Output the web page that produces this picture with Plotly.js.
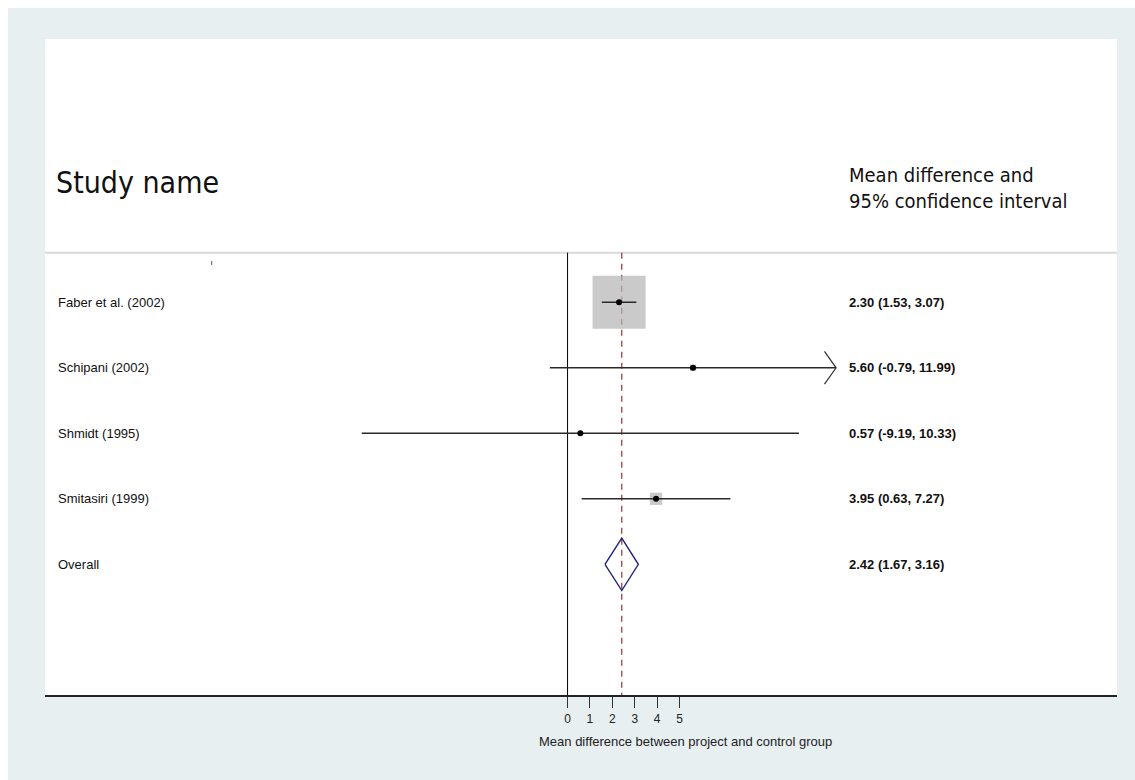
<!DOCTYPE html>
<html>
<head>
<meta charset="utf-8">
<script src="https://cdn.plot.ly/plotly-3.0.1.min.js"></script>
<style>
  html, body { margin: 0; padding: 0; background: #ffffff; width: 1135px; height: 780px; overflow: hidden; }
  #chart { position: absolute; left: 8px; top: 8px; width: 1127px; height: 772px; }
</style>
</head>
<body>
<div id="chart"></div>
<script>
// ---- data ----
var studies   = ["Faber et al. (2002)", "Schipani (2002)", "Shmidt (1995)", "Smitasiri (1999)"];
var meanDiff  = [2.30, 5.60, 0.57, 3.95];
var lowerCI   = [1.53, -0.79, -9.19, 0.63];
var upperCI   = [3.07, 11.99, 10.33, 7.27];
var weightPct = [93.1, 1.35, 0.58, 5.0];          // relative study weight (box area)
var arrowStudies = ["Schipani (2002)"];          // CI drawn with an open arrow at its upper end

var overallLabel = "Overall";
var overallMean  = 2.42;
var overallLower = 1.67;
var overallUpper = 3.16;

var xTickVals = [0, 1, 2, 3, 4, 5];
var headerLeft  = "Study name";
var headerRight = "Mean difference and<br>95% confidence interval";
var xAxisTitle  = "Mean difference between project and control group";

// ---- layout helpers ----
var rowY = studies.map(function (s, i) { return i + 1; });
var overallY = studies.length + 1;
var headerLineY = 0.243;
var yTop = -3.02, yBottom = 6.995;

var sansHead = "DejaVu Sans Condensed, DejaVu Sans, sans-serif";
var arial = "Liberation Sans, Arial, sans-serif";

var traces = [];

// weight boxes
traces.push({
  type: "scatter", mode: "markers",
  x: meanDiff, y: rowY,
  marker: { symbol: "square", color: "#b3b3b3",
            size: weightPct.map(function (w) { return 5.5 * Math.sqrt(w); }),
            line: { width: 0 } },
  hoverinfo: "skip"
});

// confidence intervals + point estimates
traces.push({
  type: "scatter", mode: "markers",
  x: meanDiff, y: rowY,
  marker: { symbol: "circle", color: "#000000", size: 6 },
  error_x: {
    type: "data", symmetric: false,
    array: meanDiff.map(function (m, i) { return upperCI[i] - m; }),
    arrayminus: meanDiff.map(function (m, i) { return m - lowerCI[i]; }),
    width: 0, thickness: 1.4, color: "#2a2a2a"
  },
  hoverinfo: "skip"
});

// open arrowheads
studies.forEach(function (s, i) {
  if (arrowStudies.indexOf(s) < 0) return;
  var tip = upperCI[i], dx = 0.52, dy = 0.25;
  traces.push({
    type: "scatter", mode: "lines",
    x: [tip - dx, tip, tip - dx], y: [rowY[i] - dy, rowY[i], rowY[i] + dy],
    line: { color: "#333333", width: 1.2 },
    hoverinfo: "skip"
  });
});

// overall diamond
var dh = 0.40;
traces.push({
  type: "scatter", mode: "lines",
  x: [overallLower, overallMean, overallUpper, overallMean, overallLower],
  y: [overallY, overallY - dh, overallY, overallY + dh, overallY],
  line: { color: "#22227f", width: 1.4 },
  hoverinfo: "skip"
});

// annotations
var annotations = [];
var labelX = 0.0105, valueX = 0.748;
studies.concat([overallLabel]).forEach(function (s, i) {
  annotations.push({ xref: "paper", yref: "y", x: labelX, y: i + 1, xanchor: "left", yanchor: "middle",
    text: s, showarrow: false, font: { family: arial, size: 13, color: "#111111" } });
});
meanDiff.concat([overallMean]).forEach(function (m, i) {
  var lo = i < studies.length ? lowerCI[i] : overallLower;
  var hi = i < studies.length ? upperCI[i] : overallUpper;
  annotations.push({ xref: "paper", yref: "y", x: valueX, y: i + 1, xanchor: "left", yanchor: "middle",
    text: "<b>" + m.toFixed(2) + " (" + lo.toFixed(2) + ", " + hi.toFixed(2) + ")</b>",
    showarrow: false, font: { family: arial, size: 13, color: "#111111" } });
});
annotations.push({ xref: "paper", yref: "y", x: 0.0085, y: -0.83, xanchor: "left", yanchor: "middle",
  text: headerLeft, showarrow: false, font: { family: sansHead, size: 30, color: "#111111" } });
annotations.push({ xref: "paper", yref: "y", x: valueX, y: -0.75, xanchor: "left", yanchor: "middle",
  align: "left", text: headerRight, showarrow: false, font: { family: sansHead, size: 20, color: "#111111" } });
annotations.push({ xref: "paper", yref: "paper", x: 0.5976, y: -0.0716, xanchor: "center", yanchor: "middle",
  text: xAxisTitle, showarrow: false, font: { family: arial, size: 13, color: "#222222" } });

var shapes = [
  // header separator
  { type: "line", xref: "paper", yref: "y", x0: 0, x1: 1, y0: headerLineY, y1: headerLineY,
    line: { color: "#d9d9d9", width: 2 }, layer: "below" },
  // stray tick under header
  { type: "line", xref: "paper", yref: "y", x0: 0.1555, x1: 0.1555, y0: 0.37, y1: 0.43,
    line: { color: "#555555", width: 1 }, layer: "below" },
  // no-effect line
  { type: "line", xref: "x", yref: "y", x0: 0, x1: 0, y0: headerLineY, y1: yBottom,
    line: { color: "#000000", width: 1 }, layer: "below" },
  // overall estimate line
  { type: "line", xref: "x", yref: "y", x0: overallMean, x1: overallMean, y0: headerLineY, y1: yBottom,
    line: { color: "#8e2020", width: 1.1, dash: "6px,5px" }, layer: "below" }
];

var layout = {
  width: 1127, height: 772,
  margin: { l: 37, r: 18, t: 31, b: 85, pad: 0 },
  paper_bgcolor: "#e8eff1",
  plot_bgcolor: "#ffffff",
  showlegend: false,
  hovermode: false,
  xaxis: {
    range: [-23.33, 24.53], fixedrange: true,
    showgrid: false, zeroline: false,
    showline: true, linecolor: "#222222", linewidth: 1.5,
    ticks: "outside", ticklen: 11, tickwidth: 1, tickcolor: "#333333",
    tickmode: "array", tickvals: xTickVals, ticktext: xTickVals.map(String),
    tickfont: { family: arial, size: 12, color: "#222222" },
    ticklabelstandoff: 1
  },
  yaxis: {
    range: [yBottom, yTop], fixedrange: true,
    showgrid: false, zeroline: false, showline: false,
    showticklabels: false, ticks: ""
  },
  annotations: annotations,
  shapes: shapes
};

Plotly.newPlot("chart", traces, layout, { displayModeBar: false, staticPlot: true });
</script>
</body>
</html>
